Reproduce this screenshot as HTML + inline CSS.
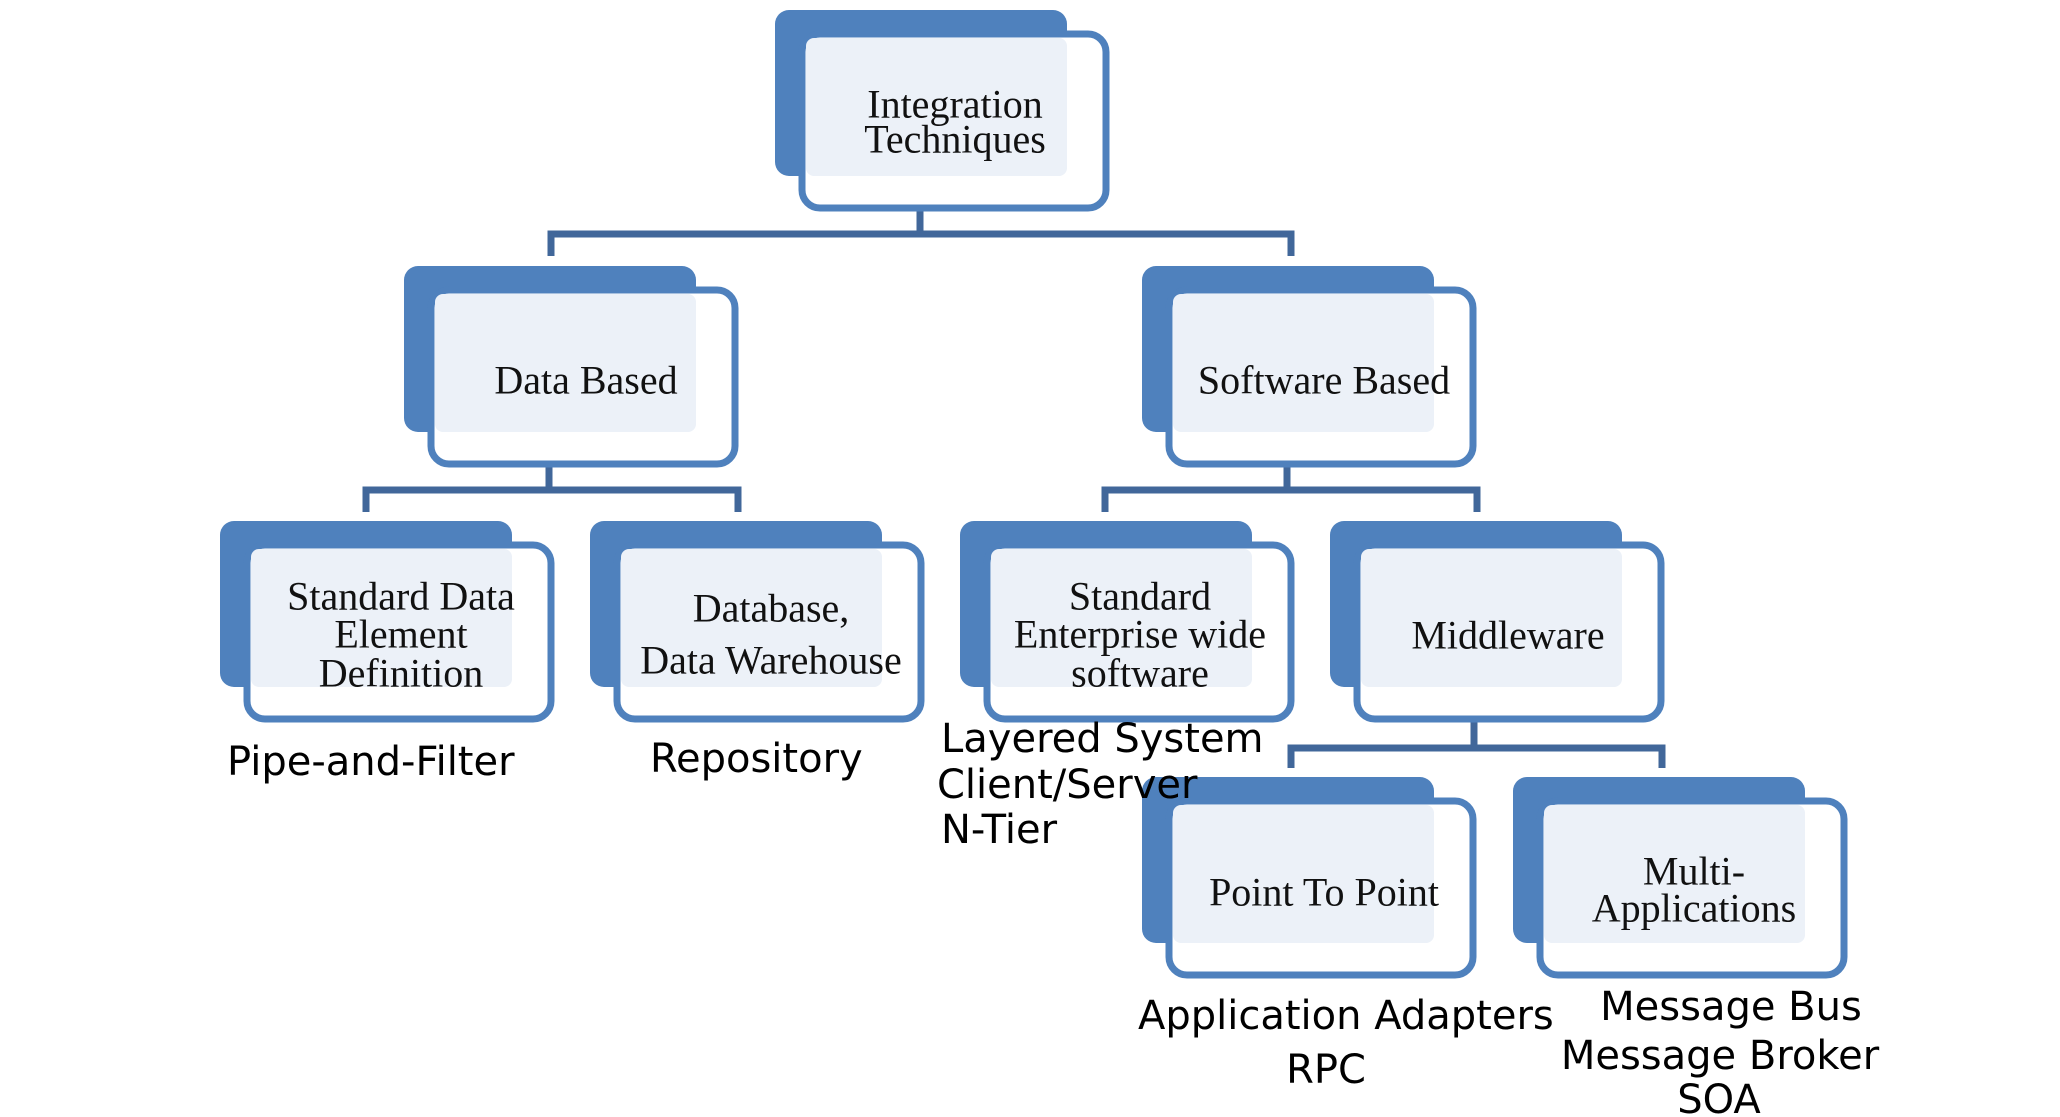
<!DOCTYPE html>
<html><head><meta charset="utf-8"><style>
html,body{margin:0;padding:0;background:#fff;}
svg{display:block;}
.n{font-family:"Liberation Serif",serif;font-size:40px;fill:#111;text-anchor:middle;}
.l{font-family:"DejaVu Sans","Liberation Sans",sans-serif;font-size:40px;fill:#000;}
</style></head><body>
<svg width="2060" height="1117" viewBox="0 0 2060 1117" xmlns="http://www.w3.org/2000/svg">
<defs>
<g id="box">
  <rect x="0" y="0" width="292" height="166" rx="14" fill="#4f81bd"/>
  <rect x="27" y="24" width="304" height="174" rx="18" fill="#fff" stroke="#4f81bd" stroke-width="7"/>
  <rect x="31" y="28" width="261" height="138" rx="8" fill="#ecf1f8"/>
</g>
</defs>
<g stroke="#41679a" stroke-width="7" fill="none">
  <path d="M920 200 V234 M551 256 V234 H1291 V256"/>
  <path d="M549 456 V490 M366 512 V490 H738 V512"/>
  <path d="M1287 456 V490 M1105 512 V490 H1477 V512"/>
  <path d="M1474 712 V748 M1291 768 V748 H1662 V768"/>
</g>
<use href="#box" x="775" y="10"/>
<use href="#box" x="404" y="266"/>
<use href="#box" x="1142" y="266"/>
<use href="#box" x="220" y="521"/>
<use href="#box" x="590" y="521"/>
<use href="#box" x="960" y="521"/>
<use href="#box" x="1330" y="521"/>
<use href="#box" x="1142" y="777"/>
<use href="#box" x="1513" y="777"/>
<g class="n" dominant-baseline="central">
  <text x="955" y="104">Integration</text>
  <text x="955" y="139">Techniques</text>
  <text x="586" y="380">Data Based</text>
  <text x="1324" y="380">Software Based</text>
  <text x="401" y="596">Standard Data</text>
  <text x="401" y="634">Element</text>
  <text x="401" y="673">Definition</text>
  <text x="771" y="608">Database,</text>
  <text x="771" y="660">Data Warehouse</text>
  <text x="1140" y="596">Standard</text>
  <text x="1140" y="634">Enterprise wide</text>
  <text x="1140" y="673">software</text>
  <text x="1508" y="635">Middleware</text>
  <text x="1324" y="892">Point To Point</text>
  <text x="1694" y="871">Multi-</text>
  <text x="1694" y="908">Applications</text>
</g>
<g class="l" dominant-baseline="central">
  <text x="227" y="762">Pipe-and-Filter</text>
  <text x="650" y="759">Repository</text>
  <text x="941" y="739">Layered System</text>
  <text x="937" y="785">Client/Server</text>
  <text x="941" y="830">N-Tier</text>
  <text x="1138" y="1016">Application Adapters</text>
  <text x="1326" y="1070" text-anchor="middle">RPC</text>
  <text x="1731" y="1007" text-anchor="middle">Message Bus</text>
  <text x="1720" y="1056" text-anchor="middle">Message Broker</text>
  <text x="1719" y="1100" text-anchor="middle">SOA</text>
</g>
</svg>
</body></html>
